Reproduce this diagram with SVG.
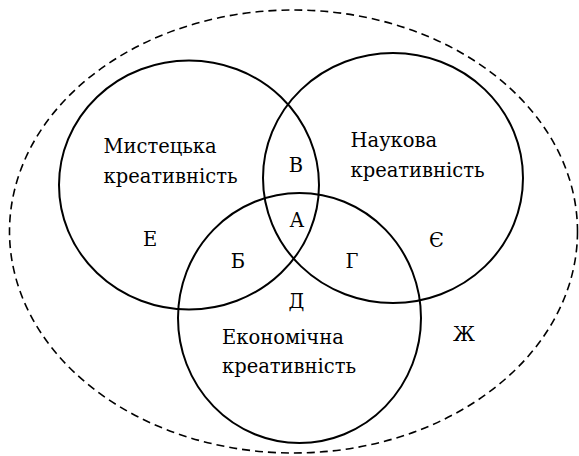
<svg xmlns="http://www.w3.org/2000/svg" width="579" height="456" viewBox="0 0 579 456">
<style>
.c{fill:none;stroke:#000;stroke-width:2}
.d{fill:none;stroke:#000;stroke-width:1.6;stroke-dasharray:8 5}
</style>
<rect width="579" height="456" fill="#fff"/>
<g font-family="DejaVu Serif, serif" font-size="19.5" fill="#000">
<g id="universe"><ellipse class="d" cx="293.5" cy="231.5" rx="284" ry="221.5"/><text text-anchor="middle" x="464" y="341">Ж</text></g>
<g id="art"><ellipse class="c" cx="189" cy="185" rx="130" ry="124.5"/><text x="103.5" y="153">Мистецька</text><text x="103.5" y="183">креативність</text><text text-anchor="middle" x="150" y="246">Е</text></g>
<g id="science"><ellipse class="c" cx="393" cy="178" rx="130" ry="125"/><text x="350.5" y="147">Наукова</text><text x="350.5" y="177">креативність</text><text text-anchor="middle" x="436.5" y="247">Є</text></g>
<g id="economy"><ellipse class="c" cx="299.5" cy="318" rx="121.5" ry="125"/><text x="222" y="344">Економічна</text><text x="222" y="373">креативність</text><text text-anchor="middle" x="296.5" y="308">Д</text></g>
<g id="intersections"><text text-anchor="middle" x="296" y="172">В</text><text text-anchor="middle" x="297" y="227">А</text><text text-anchor="middle" x="238" y="268">Б</text><text text-anchor="middle" x="352" y="268">Г</text></g>
</g>
</svg>
